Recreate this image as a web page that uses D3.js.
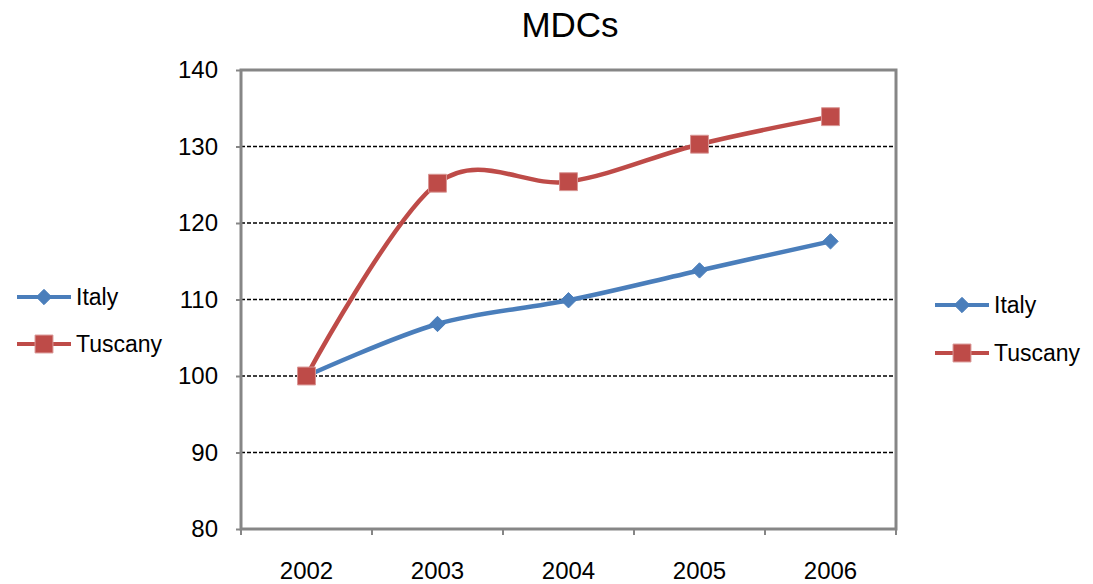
<!DOCTYPE html>
<html><head><meta charset="utf-8">
<script src="https://cdn.jsdelivr.net/npm/d3@7"></script>
<style>body{margin:0;background:#fff}svg{display:block;font-family:"Liberation Sans",Arial,sans-serif}</style>
</head><body>
<svg id="c" width="1093" height="584"></svg>
<script>
const categories = ["2002","2003","2004","2005","2006"];
const italy = [100, 106.8, 109.9, 113.8, 117.6];
const tuscany = [100, 125.2, 125.4, 130.3, 133.9];
const yTicks = [80, 90, 100, 110, 120, 130, 140];
const seriesNames = ["Italy", "Tuscany"];
const colors = ["#4a7ebb", "#be4b48"];

const svg = d3.select("#c");
const L = 241, R = 896, T = 70, B = 529;
const x = d3.scaleBand().domain(categories).range([L, R]);
const y = d3.scaleLinear().domain([80, 140]).range([B, T]);

svg.append("text").attr("x", 570).attr("y", 37).attr("text-anchor", "middle")
  .attr("font-size", 35).text("MDCs");

// gridlines
svg.append("g").selectAll("line").data(yTicks.filter(d => d > 80 && d < 140)).join("line")
  .attr("x1", L).attr("x2", R).attr("y1", d => y(d)).attr("y2", d => y(d))
  .attr("stroke", "#000").attr("stroke-width", 1.3).attr("stroke-dasharray", "4,2");

// axes
const yAxis = d3.axisLeft(y).tickValues(yTicks).tickSize(5).tickPadding(18);
const gy = svg.append("g").attr("transform", `translate(${L},0)`).call(yAxis);
gy.select(".domain").remove();
gy.selectAll(".tick line").attr("stroke", "#868686").attr("stroke-width", 2);
gy.selectAll(".tick text").attr("font-size", 24).attr("fill", "#000").attr("font-family", "Liberation Sans, Arial, sans-serif");

const xAxis = d3.axisBottom(x).tickSize(0).tickPadding(33);
const gx = svg.append("g").attr("transform", `translate(0,${B})`).call(xAxis);
gx.select(".domain").remove();
gx.selectAll(".tick text").attr("font-size", 24).attr("fill", "#000").attr("font-family", "Liberation Sans, Arial, sans-serif");
// category boundary ticks
const bounds = categories.map(c => x(c)).concat([R]);
svg.append("g").selectAll("line").data(bounds).join("line")
  .attr("x1", d => d).attr("x2", d => d).attr("y1", B).attr("y2", B + 6)
  .attr("stroke", "#868686").attr("stroke-width", 2);

// plot border
svg.append("rect").attr("x", L).attr("y", T).attr("width", R - L).attr("height", B - T)
  .attr("fill", "none").attr("stroke", "#868686").attr("stroke-width", 3);

const cx = c => x(c) + x.bandwidth() / 2;
const line = d3.line().x((d, i) => cx(categories[i])).y(d => y(d)).curve(d3.curveCardinal.tension(0));

const series = [italy, tuscany];
series.forEach((vals, si) => {
  svg.append("path").attr("d", line(vals)).attr("fill", "none")
    .attr("stroke", colors[si]).attr("stroke-width", 4.5).attr("stroke-linejoin", "round");
});
const diamond = d3.symbol().type(d3.symbolDiamond2).size(150);
const square = d3.symbol().type(d3.symbolSquare).size(320);
function marker(g, si, px, py) {
  g.append("path").attr("d", si === 0 ? diamond() : square())
    .attr("transform", `translate(${px},${py})`)
    .attr("fill", colors[si]).attr("stroke", si === 0 ? colors[si] : "#d99694").attr("stroke-width", 1);
}
series.forEach((vals, si) => {
  const g = svg.append("g");
  vals.forEach((v, i) => marker(g, si, cx(categories[i]), y(v)));
});

// legends
function legend(x0, y0, gap) {
  seriesNames.forEach((n, i) => {
    const yy = y0 + i * gap;
    svg.append("line").attr("x1", x0).attr("x2", x0 + 54).attr("y1", yy).attr("y2", yy)
      .attr("stroke", colors[i]).attr("stroke-width", 4);
    marker(svg, i, x0 + 27, yy);
    svg.append("text").attr("x", x0 + 59).attr("y", yy + 8).attr("font-size", 23).text(n);
  });
}
legend(17, 297, 47);
legend(935, 305, 48);
</script>
</body></html>
